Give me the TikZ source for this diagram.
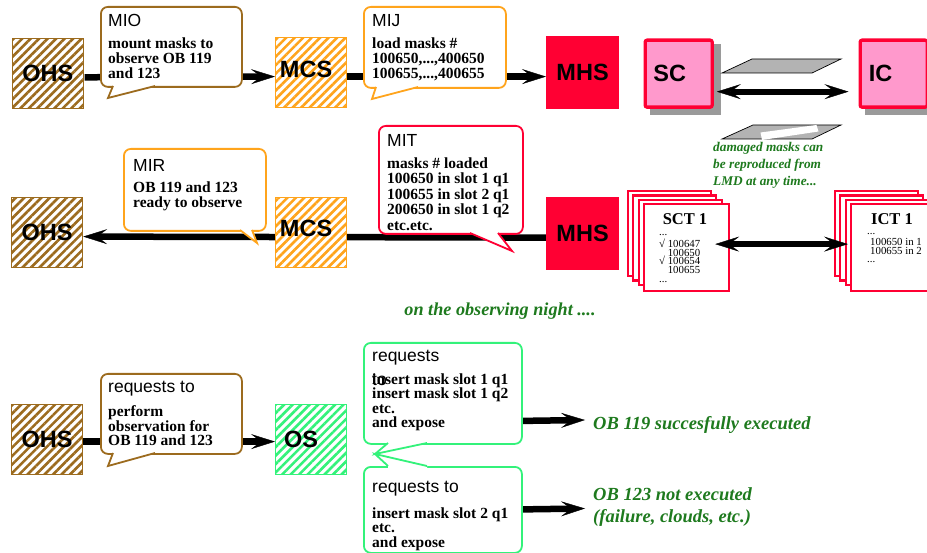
\documentclass[tikz,border=0pt]{standalone}
\usepackage{fontspec}
\setmainfont{Liberation Serif}
\setsansfont{Liberation Sans}
\usetikzlibrary{arrows.meta,patterns.meta}

\definecolor{ohsbrown}{HTML}{9C6B1E}
\definecolor{mcsorange}{HTML}{FFA41C}
\definecolor{mhsred}{HTML}{FF0033}
\definecolor{scpink}{HTML}{FF99CC}
\definecolor{osgreen}{HTML}{33F27A}
\definecolor{notegreen}{HTML}{1E7A1E}
\definecolor{maskgray}{HTML}{B3B3B3}
\definecolor{shadowgray}{HTML}{9A9A9A}

\pgfdeclarelayer{back}
\pgfsetlayers{back,main}

\tikzset{
  unitbox/.style={draw=#1, line width=1.2pt, minimum width=71pt, minimum height=70pt,
    inner sep=0pt, anchor=north west},
  hatched/.style={unitbox=#1, preaction={fill=white},
    pattern={Lines[angle=45,distance=6pt,line width=2.6pt]}, pattern color=#1},
  solidbox/.style={unitbox=#1, fill=#1},
  scbox/.style={draw=mhsred, fill=scpink, line width=3.3pt, rounded corners=2pt,
    minimum width=67pt, minimum height=67pt, inner sep=0pt, anchor=north west},
  boxlabel/.style={font=\sffamily\bfseries\fontsize{23.5}{23.5}\selectfont, inner sep=0pt},
  bubble/.style={draw=#1, fill=white, line width=1.8pt, rounded corners=7pt,
    inner sep=0pt, anchor=north west},
  bubtitle/.style={font=\sffamily\fontsize{17.5}{17.5}\selectfont, anchor=base west,
    inner sep=0pt},
  bubtext/.style={font=\bfseries\fontsize{15.5}{#1}\selectfont, align=left,
    anchor=north west, inner sep=0pt},
  bubtext/.default=15,
  flow/.style={line width=6.5pt, -{Stealth[length=24pt,width=15pt,inset=10pt,line width=0.4pt]}},
  twoway/.style={line width=6pt,
    {Stealth[length=24pt,width=15pt,inset=10pt,line width=0.4pt]}-{Stealth[length=24pt,width=15pt,inset=10pt,line width=0.4pt]}},
  note/.style={text=notegreen, font=\bfseries\itshape\fontsize{18.5}{22}\selectfont,
    inner sep=0pt, anchor=base west},
  smallnote/.style={text=notegreen, font=\bfseries\itshape\fontsize{13.3}{17}\selectfont,
    inner sep=0pt, anchor=base west},
  page/.style={draw=mhsred, fill=white, line width=2.2pt, minimum width=85pt,
    minimum height=87pt, inner sep=0pt, anchor=north west},
  pagehead/.style={font=\bfseries\fontsize{16.5}{16.5}\selectfont, anchor=base, inner sep=0pt},
  pagelist/.style={font=\fontsize{10.8}{8.7}\selectfont, align=left, anchor=north west,
    inner sep=0pt},
}

% callout pointer: colour, base corner, tip, base corner, inward shift
\newcommand\bubbletail[5]{%
  \fill[white] ([yshift=#5]#2) -- (#2) -- (#3) -- (#4) -- ([yshift=#5]#4) -- cycle;
  \draw[#1, line width=1.8pt, line join=miter] (#2) -- (#3) -- (#4);
}

\begin{document}
\begin{tikzpicture}[x=1pt,y=-1pt]
\clip (0,0) rectangle (927,553);

% ---------------- first row: mask preparation ----------------
\node[hatched=ohsbrown] (ohsA) at (11,37) {};
\node[boxlabel] (ohsAt) at (ohsA.center) {OHS};
\node[hatched=mcsorange] (mcsA) at (275,37) {};
\node[boxlabel] (mcsAt) at ([shift={(-5pt,3pt)}]mcsA.center) {MCS};
\node[solidbox=mhsred, minimum width=72pt, minimum height=72pt] (mhsA) at (546,36) {};
\node[boxlabel] (mhsAt) at (mhsA.center) {MHS};

\fill[shadowgray] (650,44) rectangle (721,115);
\node[scbox] (sc) at (643.5,38.5) {};
\node[boxlabel] (sct) at ([xshift=-9pt]sc.center) {SC};
\fill[shadowgray] (865,44) rectangle (936,115);
\node[scbox] (ic) at (858.5,38.5) {};
\node[boxlabel] (ict) at ([xshift=-13pt]ic.center) {IC};

% the two masks
\draw[fill=maskgray, line width=0.7pt] (722,73) -- (752,59) -- (841,59) -- (812,73) -- cycle;
\draw[fill=maskgray, line width=0.7pt] (722,139) -- (753,125) -- (841,125) -- (812,139) -- cycle;
\fill[white] (760.5,132.5) -- (816.5,125) -- (818.5,131.5) -- (762,140) -- cycle;

\begin{pgfonlayer}{back}
  \fill[white] (0,0) rectangle (927,553);
  \draw[flow] ([yshift=-4pt]ohsA.east) -- ([yshift=-4pt]mcsA.west);
  \draw[flow] ([yshift=-4pt]mcsA.east) -- ([yshift=-4pt]mhsA.west);
\end{pgfonlayer}
\draw[twoway] ([xshift=3pt,yshift=-18pt]sc.east) -- ([xshift=-10pt,yshift=-18pt]ic.west);

\node[bubble=ohsbrown, minimum width=141pt, minimum height=80pt] (mio) at (100,6) {};
\bubbletail{ohsbrown}{155,86}{108,98}{113,86}{2pt}
\node[bubtitle] (mioT) at (108,27) {MIO};
\node[bubtext] (mioB) at (108,37.5) {mount masks to\\observe OB 119\\and 123};

\node[bubble=mcsorange, minimum width=142pt, minimum height=81pt] (mij) at (363,6) {};
\bubbletail{mcsorange}{418,87}{372,99}{376,87}{2pt}
\node[bubtitle] (mijT) at (372,27) {MIJ};
\node[bubtext] (mijB) at (372,37.5) {load masks \#\\100650,...,400650\\100655,...,400655};

\node[smallnote] (dmgA) at (713,152) {damaged masks can};
\node[smallnote] (dmgB) at (713,169) {be reproduced from};
\node[smallnote] (dmgC) at (713,186) {LMD at any time...};

% ---------------- second row: masks loaded ----------------
\node[hatched=ohsbrown] (ohsB) at (11,197) {};
\node[boxlabel] (ohsBt) at (ohsB.center) {OHS};
\node[hatched=mcsorange] (mcsB) at (275,197) {};
\node[boxlabel] (mcsBt) at ([shift={(-5pt,4pt)}]mcsB.center) {MCS};
\node[solidbox=mhsred, minimum width=72pt, minimum height=72pt] (mhsB) at (546,197) {};
\node[boxlabel] (mhsBt) at (mhsB.center) {MHS};

\begin{pgfonlayer}{back}
  \draw[flow] ([yshift=-4pt]mhsB.west) -- ([yshift=-4pt]ohsB.east);
\end{pgfonlayer}

\node[bubble=mcsorange, minimum width=142pt, minimum height=82pt] (mir) at (123,148) {};
\bubbletail{mcsorange}{240,230}{257,243}{252,230}{2pt}
\node[bubtitle] (mirT) at (133,172) {MIR};
\node[bubtext] (mirB) at (133,181.5) {OB 119 and 123\\ready to observe};

\node[bubble=mhsred, minimum width=144pt, minimum height=108pt] (mit) at (378,125) {};
\bubbletail{mhsred}{470,233}{512,251}{498,233}{2pt}
\node[bubtitle] (mitT) at (387,147) {MIT};
\node[bubtext=15.5] (mitB) at (387,157.5)
  {masks \# loaded\\100650 in slot 1 q1\\100655 in slot 2 q1\\200650 in slot 1 q2\\etc.etc.};

% stacks of tables
\foreach \k in {3,2,1} {
  \draw[draw=mhsred, fill=white, line width=2.2pt]
    ({644-5.4*\k},{204-4.2*\k}) rectangle ++(83,85);
  \draw[draw=mhsred, fill=white, line width=2.2pt]
    ({851-5.4*\k},{204-4.2*\k}) rectangle ++(83,85);
}
\node[page] (sctab) at (643,203) {};
\node[page] (ictab) at (850,203) {};
\node[pagehead] (sctH) at (685,225) {SCT 1};
\node[pagelist] (sctL) at (659,229)
  {\strut...\\√ 100647\\\phantom{√ }100650\\√ 100654\\\phantom{√ }100655\\...};
\node[pagehead] (ictH) at (892,225) {ICT 1};
\node[pagelist] (ictL) at (867,228.5)
  {\strut...\\\hspace*{3pt}100650 in 1\\\hspace*{3pt}100655 in 2\\...};
\draw[twoway] ([xshift=-15pt,yshift=3.5pt]sctab.east) -- ([xshift=-2pt,yshift=3.5pt]ictab.west);

\node[note, anchor=base, font=\bfseries\itshape\fontsize{18.2}{20}\selectfont] (night)
  at (500,316) {on the observing night ....};

% ---------------- third row: observation ----------------
\node[hatched=ohsbrown] (ohsC) at (11,404) {};
\node[boxlabel] (ohsCt) at (ohsC.center) {OHS};
\node[hatched=osgreen] (os) at (275,404) {};
\node[boxlabel] (ost) at ([xshift=-10pt]os.center) {OS};

\coordinate (okA) at (585,420);
\coordinate (okB) at (585,508.5);

\begin{pgfonlayer}{back}
  \draw[flow] ([yshift=-2pt]ohsC.east) -- ([yshift=-2pt]os.west);
\end{pgfonlayer}

\node[bubble=ohsbrown, minimum width=141pt, minimum height=80pt] (req) at (100,373) {};
\bubbletail{ohsbrown}{155,453}{108,466}{113,453}{2pt}
\node[bubtitle] (reqT) at (108,393) {requests to};
\node[bubtext=14.5] (reqB) at (108,405.5) {perform\\observation for\\OB 119 and 123};

\node[bubble=osgreen, minimum width=158pt, minimum height=101pt] (gA) at (363,342) {};
\node[bubble=osgreen, minimum width=158pt, minimum height=86pt] (gB) at (363,466) {};
\bubbletail{osgreen}{427,443}{375,454}{388,443}{2pt}
\bubbletail{osgreen}{427,466}{375,454}{388,466}{-2pt}
\node[bubtitle] (gAT) at (372,362) {requests};
\node[bubtitle] (gAT2) at (372,385) {to};
\node[bubtext=14.5] (gAB) at (372,373.5)
  {insert mask slot 1 q1\\insert mask slot 1 q2\\etc.\\and expose};
\node[bubtitle] (gBT) at (372,492) {requests to};
\node[bubtext=14.5] (gBB) at (372,507.5) {insert mask slot 2 q1\\etc.\\and expose};

\begin{pgfonlayer}{back}
  \draw[flow] ([yshift=-27.5pt]gA.east) -- (okA);
  \draw[flow] ([yshift=0.5pt]gB.east) -- (okB);
\end{pgfonlayer}

\node[note] (resA) at (593,429) {OB 119 succesfully executed};
\node[note] (resB) at (593,500) {OB 123 not executed};
\node[note] (resC) at (593,522) {(failure, clouds, etc.)};
\end{tikzpicture}
\end{document}
